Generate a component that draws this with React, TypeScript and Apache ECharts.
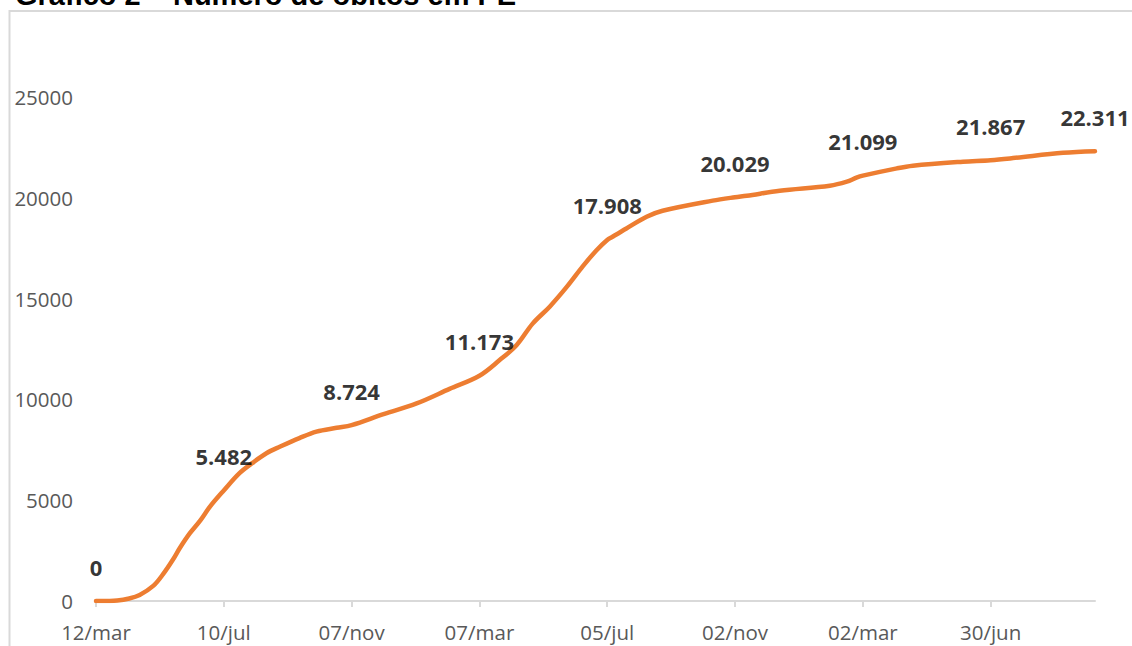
import React, { useEffect, useRef } from "react";
import * as echarts from "echarts";

const START = "2020-03-12";

const dates = [
  "2020-03-12", "2020-03-25", "2020-04-01", "2020-04-11", "2020-04-22", "2020-05-05",
  "2020-05-14", "2020-05-23", "2020-05-30", "2020-06-08", "2020-06-18", "2020-06-27",
  "2020-07-10", "2020-07-25", "2020-08-06", "2020-08-19", "2020-09-01", "2020-09-19",
  "2020-10-05", "2020-10-24", "2020-11-07", "2020-12-07", "2021-01-07", "2021-02-07",
  "2021-03-07", "2021-03-26", "2021-04-11", "2021-04-26", "2021-05-12", "2021-05-28",
  "2021-06-12", "2021-06-25", "2021-07-05", "2021-07-10", "2021-07-23", "2021-08-11",
  "2021-08-26", "2021-10-12", "2021-11-02", "2021-11-13", "2021-12-14", "2022-01-30",
  "2022-02-15", "2022-02-24", "2022-03-02", "2022-04-03", "2022-04-18", "2022-06-04",
  "2022-06-30", "2022-07-21", "2022-09-06", "2022-10-06",
];

const obitos = [
  0, 0, 20, 110, 300, 760,
  1330, 2030, 2650, 3350, 4000, 4680,
  5482, 6350, 6850, 7330, 7660, 8080,
  8400, 8590, 8724, 9270, 9800, 10520,
  11173, 11950, 12700, 13760, 14600, 15580,
  16600, 17400, 17908, 18070, 18480, 19060,
  19360, 19860, 20029, 20100, 20350, 20600,
  20800, 21000, 21099, 21460, 21590, 21790,
  21867, 21970, 22230, 22311,
];

const labeledDates = [
  "2020-03-12", "2020-07-10", "2020-11-07", "2021-03-07", "2021-07-05",
  "2021-11-02", "2022-03-02", "2022-06-30", "2022-10-06",
];

const tickDates = [
  "2020-03-12", "2020-07-10", "2020-11-07", "2021-03-07",
  "2021-07-05", "2021-11-02", "2022-03-02", "2022-06-30",
];
const tickLabels = ["12/mar", "10/jul", "07/nov", "07/mar", "05/jul", "02/nov", "02/mar", "30/jun"];

const yTicks = [0, 5000, 10000, 15000, 20000, 25000];

const TITLE = "Gráfico 2 – Número de óbitos em PE";

const DAY_MS = 86400000;
const toDay = (d: string) =>
  Math.round((Date.parse(d + "T00:00:00Z") - Date.parse(START + "T00:00:00Z")) / DAY_MS);

const fmtThousands = (v: number) => String(Math.round(v)).replace(/\B(?=(\d{3})+(?!\d))/g, ".");

export default function App() {
  const ref = useRef<HTMLDivElement>(null);

  useEffect(() => {
    document.body.style.margin = "0";
    if (!ref.current) return;
    const chart = echarts.init(ref.current, undefined, { renderer: "svg" });

    const lineData = dates.map((d, i) => [toDay(d), obitos[i]]);
    const labelData = labeledDates.map((d) => {
      const i = dates.indexOf(d);
      return [toDay(d), obitos[i]];
    });
    const tickDays = tickDates.map(toDay);
    const lastDay = toDay(dates[dates.length - 1]);

    chart.setOption({
      animation: false,
      backgroundColor: "#ffffff",
      grid: { left: 96, right: 1132 - 1095, top: 97, bottom: 45, containLabel: false },
      graphic: [
        {
          type: "rect",
          silent: true,
          shape: { x: 9.5, y: 11, width: 1300, height: 800 },
          style: { fill: "none", stroke: "#d9d9d9", lineWidth: 2 },
          z: -10,
        },
        {
          type: "text",
          x: 15,
          y: -5,
          silent: true,
          style: {
            text: TITLE,
            fill: "#000000",
            font: "bold 29px 'Liberation Sans', Arial, sans-serif",
            align: "left",
            verticalAlign: "middle",
          },
        },
      ],
      xAxis: {
        type: "value",
        min: 0,
        max: lastDay,
        interval: 120,
        splitLine: { show: false },
        axisLine: { show: true, lineStyle: { color: "#d9d9d9", width: 2 } },
        axisTick: {
          show: true,
          length: 6,
          customValues: tickDays,
          lineStyle: { color: "#d9d9d9", width: 2 },
        },
        axisLabel: {
          customValues: tickDays,
          color: "#595959",
          fontFamily: "'Open Sans', sans-serif",
          fontSize: 20.5,
          margin: 20,
          formatter: (v: number) => {
            const idx = tickDays.indexOf(Math.round(v));
            return idx >= 0 ? tickLabels[idx] : "";
          },
        },
      },
      yAxis: {
        type: "value",
        min: 0,
        max: 25000,
        interval: 5000,
        splitLine: { show: false },
        axisLine: { show: false },
        axisTick: { show: false },
        axisLabel: {
          color: "#595959",
          fontFamily: "'Open Sans', sans-serif",
          fontSize: 20.5,
          margin: 23,
          formatter: (v: number) => (yTicks.includes(v) ? String(v) : ""),
        },
      },
      series: [
        {
          type: "line",
          data: lineData,
          showSymbol: false,
          smooth: 0.35,
          lineStyle: { color: "#ED7D31", width: 4.5, cap: "round", join: "round" },
          itemStyle: { color: "#ED7D31" },
          z: 2,
        },
        {
          type: "scatter",
          data: labelData,
          symbolSize: 1,
          itemStyle: { color: "rgba(0,0,0,0)" },
          z: 3,
          label: {
            show: true,
            position: "top",
            distance: 23,
            color: "#000000",
            fontFamily: "'Open Sans', sans-serif",
            fontWeight: "bold",
            fontSize: 22,
            formatter: (p: any) => fmtThousands(p.value[1]),
          },
        },
      ],
    });

    return () => chart.dispose();
  }, []);

  return <div ref={ref} style={{ width: 1132, height: 646 }} />;
}
